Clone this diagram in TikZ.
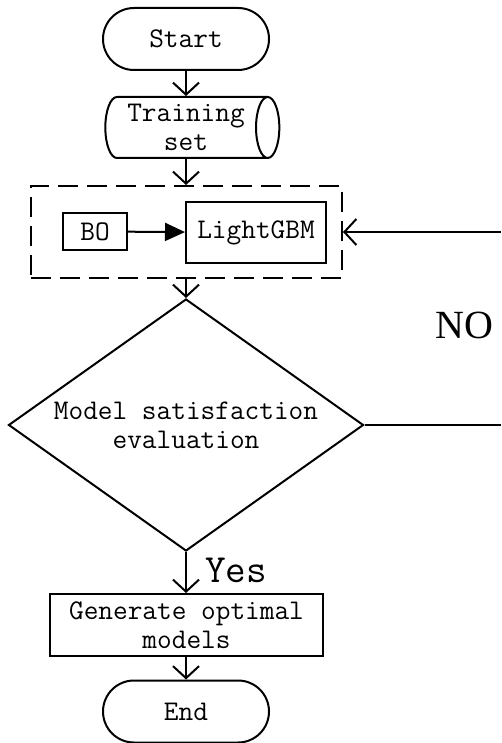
\documentclass[tikz,border=0pt]{standalone}
\usepackage{fontspec}
\setmainfont{Liberation Serif}
\usetikzlibrary{shapes.geometric,arrows.meta}

\begin{document}
\begin{tikzpicture}
  [x=1pt,y=-1pt,line width=2pt,
   every node/.style={font=\ttfamily\fontsize{28.5}{29}\selectfont,align=center,inner sep=0pt},
   term/.style={draw,rounded corners=31pt,minimum width=166pt,minimum height=62pt},
   proc/.style={draw,rectangle},
   data/.style={draw,cylinder,shape aspect=0.5,minimum width=61pt,minimum height=174pt},
   group/.style={draw,rectangle,dash pattern=on 20pt off 9pt,minimum width=311pt,minimum height=92pt},
   test/.style={draw,diamond,aspect=1.41,minimum width=355pt,minimum height=252pt},
   >={Straight Barb[length=12pt,width=26pt]}]
  \useasboundingbox (0,0) rectangle (501,743);
  \node[term] (start) at (186,39)    {Start};
  \node[data] (train) at (186,127.5) {Training\\set};
  \node[group] (grp) at (186.5,232)  {};
  \node[proc,minimum width=64pt,minimum height=37pt] (bo) at (95,231.5) {BO};
  \node[proc,minimum width=140pt,minimum height=61pt] (lgbm) at (256,232.5) {LightGBM};
  \node[test] (judge) at (186,425)   {Model satisfaction\\evaluation};
  \node[proc,minimum width=273pt,minimum height=62pt] (gen) at (186.5,625)
    {Generate optimal\\models};
  \node[term] (end) at (186,711.5)   {End};
  \node (yes) at (236,570) {\fontsize{40}{44}\selectfont Yes};
  \node (no) at (464,325) {\rmfamily\fontsize{40}{46}\selectfont NO};
  \coordinate (fbA) at (501,232);
  \coordinate (fbB) at (501,425);

  \foreach \from/\to in {start/train,train/grp,grp/judge,judge/gen,gen/end}
    \draw[->] (\from.south -| start) -- (\to.north -| start);
  \draw[-{Triangle[length=20pt,width=18pt]}] (bo) -- (lgbm);
  \draw (judge.east) -- (fbB);
  \draw[->] (fbA) -- (grp.east);

\end{tikzpicture}
\end{document}
